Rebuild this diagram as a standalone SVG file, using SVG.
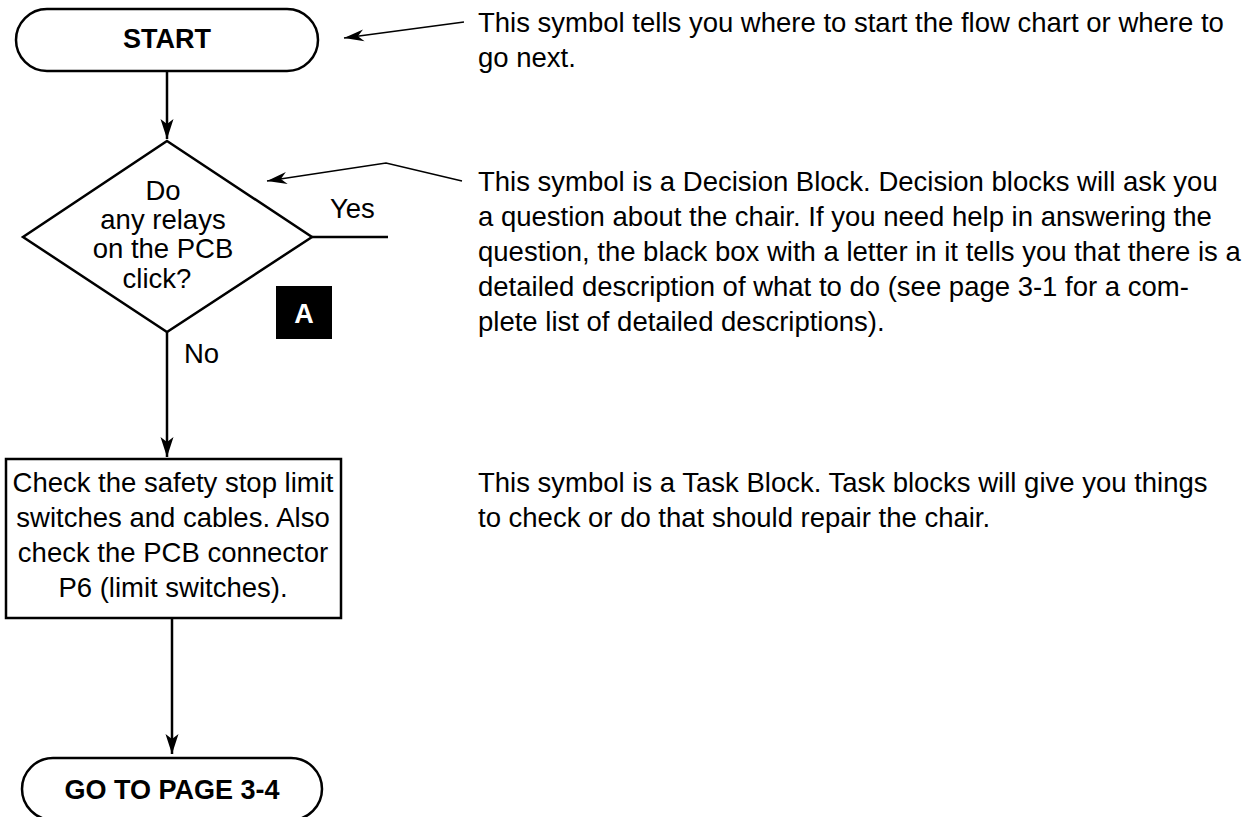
<svg xmlns="http://www.w3.org/2000/svg" width="1246" height="817" viewBox="0 0 1246 817">
<style>
.shape{fill:#fff;stroke:#000;stroke-width:2.5}
.conn{fill:none;stroke:#000;stroke-width:2.5}
.lead{fill:none;stroke:#000;stroke-width:1.5}
.t{font-family:"Liberation Sans",Arial,Helvetica,sans-serif;font-size:27.5px;fill:#000}
.b{font-family:"Liberation Sans",Arial,Helvetica,sans-serif;font-size:27px;font-weight:bold;fill:#000}
.mid{text-anchor:middle}
</style>
<defs>
<marker id="ah" markerUnits="userSpaceOnUse" viewBox="-22 -8 24 16" markerWidth="24" markerHeight="16" refX="0" refY="0" orient="auto">
<path d="M0,0 L-20,-6.5 L-15,0 L-20,6.5 Z" fill="#000"/>
</marker>
<marker id="lh" markerUnits="userSpaceOnUse" viewBox="-22 -8 24 16" markerWidth="24" markerHeight="16" refX="0" refY="0" orient="auto">
<path d="M0,0 L-20,-6 L-14,0 L-20,6 Z" fill="#000"/>
</marker>
</defs>
<rect width="1246" height="817" fill="#fff"/>

<g id="connectors">
<line class="conn" x1="167" y1="71" x2="167" y2="139" marker-end="url(#ah)"/>
<line class="conn" x1="167" y1="332" x2="167" y2="457" marker-end="url(#ah)"/>
<line class="conn" x1="172" y1="618" x2="172" y2="754" marker-end="url(#ah)"/>
<line class="conn" x1="312" y1="237" x2="388" y2="237"/>
<polyline class="lead" points="464,22 344,38" marker-end="url(#lh)"/>
<polyline class="lead" points="462,181 386,163 267,181" marker-end="url(#lh)"/>
<text class="t" x="330" y="218">Yes</text>
<text class="t" x="184" y="363">No</text>
</g>

<g id="start">
<rect class="shape" x="16" y="9" width="302" height="62" rx="31" ry="31"/>
<text class="b mid" x="167" y="48">START</text>
</g>

<g id="decision">
<polygon class="shape" points="167,141 312,237 167,332 23,237"/>
<text class="t mid" x="163" y="200">Do</text>
<text class="t mid" x="163" y="229">any relays</text>
<text class="t mid" x="163" y="258">on the PCB</text>
<text class="t mid" x="157" y="288">click?</text>
</g>

<g id="ref-a">
<rect x="276" y="286" width="56" height="53" fill="#000"/>
<text class="b mid" x="304" y="323" fill="#fff" style="fill:#fff">A</text>
</g>

<g id="task">
<rect class="shape" x="6" y="459" width="335" height="159"/>
<text class="t mid" x="173" y="492">Check the safety stop limit</text>
<text class="t mid" x="173" y="527">switches and cables. Also</text>
<text class="t mid" x="173" y="562">check the PCB connector</text>
<text class="t mid" x="173" y="597">P6 (limit switches).</text>
</g>

<g id="goto">
<rect class="shape" x="22" y="758" width="300" height="62" rx="31" ry="31"/>
<text class="b mid" x="172" y="799">GO TO PAGE 3-4</text>
</g>

<g id="notes">
<text class="t" x="478" y="32">This symbol tells you where to start the flow chart or where to</text>
<text class="t" x="478" y="67">go next.</text>
<text class="t" x="478" y="191">This symbol is a Decision Block. Decision blocks will ask you</text>
<text class="t" x="478" y="226">a question about the chair. If you need help in answering the</text>
<text class="t" x="478" y="261">question, the black box with a letter in it tells you that there is a</text>
<text class="t" x="478" y="296">detailed description of what to do (see page 3-1 for a com-</text>
<text class="t" x="478" y="331">plete list of detailed descriptions).</text>
<text class="t" x="478" y="492">This symbol is a Task Block. Task blocks will give you things</text>
<text class="t" x="478" y="527">to check or do that should repair the chair.</text>
</g>
</svg>
